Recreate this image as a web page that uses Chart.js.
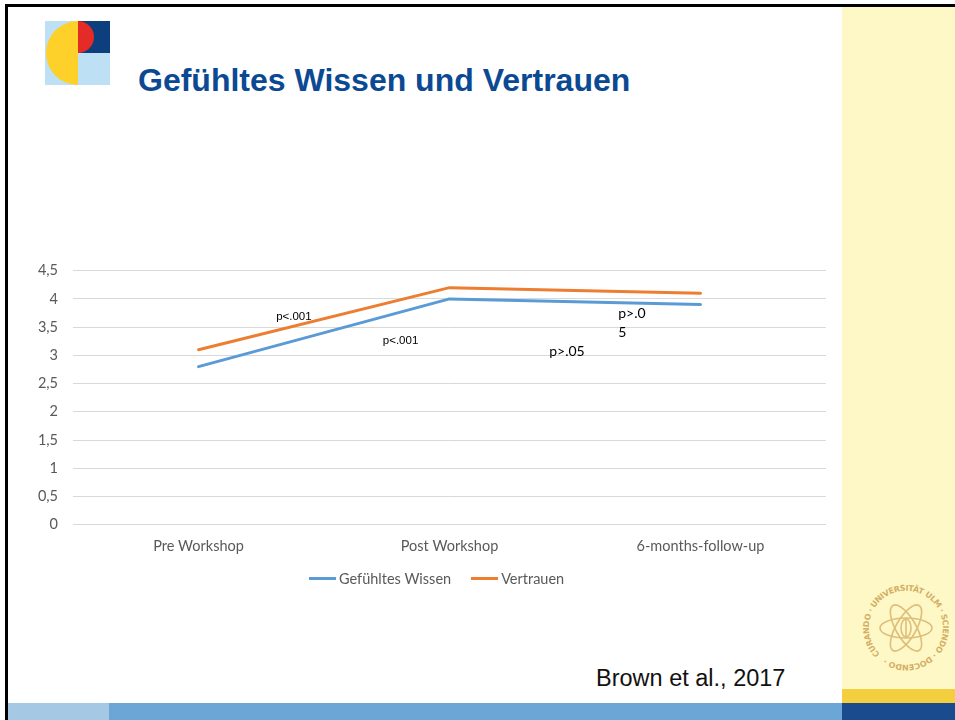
<!DOCTYPE html>
<html><head><meta charset="utf-8">
<script src="https://cdn.jsdelivr.net/npm/chart.js@4/dist/chart.umd.min.js"></script>
<style>
html,body{margin:0;padding:0;background:#fff;}
#slide{position:relative;width:955px;height:720px;overflow:hidden;background:#fff;}
.abs{position:absolute;}
#title{left:138px;top:62px;font:bold 32px "Liberation Sans",Arial,sans-serif;color:#0b4a93;white-space:nowrap;}
#cite{left:596px;top:665px;font:23.5px "Liberation Sans",Arial,sans-serif;color:#111;white-space:nowrap;}
#chartBox{left:20px;top:255px;width:816px;height:340px;}
#legend{left:309px;top:569px;height:18px;display:flex;align-items:center;font:14.5px Lato,sans-serif;color:#595959;white-space:nowrap;}
#legend .item{display:flex;align-items:center;margin-right:20px;}
#legend .sw{display:inline-block;width:27px;height:3px;margin-right:3px;}
</style></head><body>
<div id="slide">
  <div class="abs" style="left:842px;top:6px;width:113px;height:683px;background:#fef8c6;"></div>
  <div class="abs" style="left:842px;top:689px;width:113px;height:14px;background:#f3cf3f;"></div>
  <div class="abs" style="left:8px;top:703px;width:101px;height:17px;background:#a5c8e4;"></div>
  <div class="abs" style="left:109px;top:703px;width:733px;height:17px;background:#6ba6d6;"></div>
  <div class="abs" style="left:842px;top:703px;width:113px;height:17px;background:#1b4b8f;"></div>
  <div class="abs" style="left:5px;top:4px;width:950px;height:3px;background:#000;"></div>
  <div class="abs" style="left:5px;top:4px;width:3px;height:716px;background:#000;"></div>

  <svg class="abs" style="left:45px;top:21px;" width="65" height="64" viewBox="0 0 65 64">
    <rect x="0" y="0" width="65" height="64" fill="#bde0f4"/>
    <rect x="33" y="0" width="32" height="32" fill="#0d3f7e"/>
    <path d="M33 0 A16 16 0 0 1 33 32 Z" fill="#e42b25"/>
    <path d="M33 0 A32 32 0 0 0 33 64 Z" fill="#fdd12a"/>
  </svg>

  <svg class="abs" style="left:860px;top:582px;" width="92" height="92" viewBox="0 0 92 92">
    <defs>
      <path id="ring" d="M20 72 A37 37 0 1 1 72 72 A37 37 0 0 1 20 72"/>
    </defs>
    <g fill="none" stroke="#d9b56e" stroke-width="1.6" opacity="0.85">
      <ellipse cx="46" cy="46" rx="26" ry="10"/>
      <ellipse cx="46" cy="46" rx="26" ry="10" transform="rotate(60 46 46)"/>
      <ellipse cx="46" cy="46" rx="26" ry="10" transform="rotate(120 46 46)"/>
      <ellipse cx="46" cy="46" rx="5" ry="9"/>
      <line x1="46" y1="36" x2="46" y2="56"/>
    </g>
    <text font-family="DejaVu Sans" font-size="8" font-weight="bold" fill="#d4ae64">
      <textPath href="#ring" textLength="225" lengthAdjust="spacing">CURANDO · UNIVERSITÄT ULM · SCIENDO · DOCENDO ·</textPath>
    </text>
  </svg>

  <div id="title" class="abs">Gefühltes Wissen und Vertrauen</div>
  <div id="cite" class="abs">Brown et al., 2017</div>
  <div id="chartBox" class="abs"><canvas id="c" width="816" height="340"></canvas></div>
  <div id="legend" class="abs"></div>
</div>
<script>
// ---- data ----
const categories = ['Pre Workshop', 'Post Workshop', '6-months-follow-up'];
const seriesNames = ['Gefühltes Wissen', 'Vertrauen'];
const wissenValues = [2.8, 4.0, 3.9];
const vertrauenValues = [3.1, 4.2, 4.1];
const yTickLabels = ['0', '0,5', '1', '1,5', '2', '2,5', '3', '3,5', '4', '4,5'];
// significance notes, placed in data units (category index, value)
const pNotes = [
  { lines: ['p<.001'], x: 0.38, y: 3.685, kind: 'small' },
  { lines: ['p<.001'], x: 0.805, y: 3.26, kind: 'small' },
  { lines: ['p>.05'], x: 1.468, y: 3.065, kind: 'large' },
  { lines: ['p>.0', '5'], x: 1.672, y: 3.74, kind: 'wrap' }
];

// target plot frame on the page
const PLOT_TOP = 271, PLOT_HEIGHT = 254;

const pNotePlugin = {
  id: 'pNotes',
  afterDatasetsDraw(chart) {
    const { ctx, scales: { x, y } } = chart;
    ctx.save();
    ctx.fillStyle = '#000';
    ctx.textBaseline = 'middle';
    pNotes.forEach(n => {
      const px = x.getPixelForValue(n.x);
      const py = y.getPixelForValue(n.y);
      if (n.kind === 'small') {
        ctx.font = '11.5px "Liberation Sans", Arial, sans-serif';
        ctx.textAlign = 'center';
      } else if (n.kind === 'large') {
        ctx.font = '14px Lato, sans-serif';
        ctx.textAlign = 'center';
      } else {
        ctx.font = '14px Lato, sans-serif';
        ctx.textAlign = 'left';
      }
      n.lines.forEach((t, i) => ctx.fillText(t, px, py + i * 19));
    });
    ctx.restore();
  }
};

const chart = new Chart(document.getElementById('c'), {
  type: 'line',
  data: {
    labels: categories,
    datasets: [
      { label: seriesNames[0], data: wissenValues, borderColor: '#5b9bd5', backgroundColor: '#5b9bd5' },
      { label: seriesNames[1], data: vertrauenValues, borderColor: '#ed7d31', backgroundColor: '#ed7d31' }
    ]
  },
  options: {
    responsive: false,
    animation: false,
    devicePixelRatio: 1,
    layout: { padding: { top: 11, right: 10, bottom: 34, left: 0 } },
    elements: {
      line: { borderWidth: 3, tension: 0, borderCapStyle: 'round', borderJoinStyle: 'round' },
      point: { radius: 0, hoverRadius: 0 }
    },
    scales: {
      x: {
        offset: true,
        grid: { display: false, drawTicks: false },
        border: { display: false },
        ticks: { color: '#595959', font: { family: 'Lato', size: 14.5 }, padding: 13, maxRotation: 0, autoSkip: false },
        afterFit: s => { s.height = 36; }
      },
      y: {
        min: 0, max: 4.5,
        grid: { color: '#d9d9d9', lineWidth: 1, drawTicks: false },
        border: { display: false },
        ticks: {
          stepSize: 0.5, color: '#595959', font: { family: 'Lato', size: 14.5 }, padding: 15,
          callback: (v, i) => yTickLabels[i]
        },
        afterFit: s => { s.width = 53; }
      }
    },
    plugins: {
      legend: { display: false },
      tooltip: { enabled: false }
    }
  },
  plugins: [pNotePlugin]
});

// fit the plot frame to the page position
(function fitFrame() {
  const ca = chart.chartArea;
  const extra = (ca.bottom - ca.top) - PLOT_HEIGHT;
  if (Math.abs(extra) > 0.5) {
    chart.options.layout.padding.bottom += extra;
    chart.update('none');
  }
  const ca2 = chart.chartArea;
  const box = document.getElementById('chartBox');
  box.style.top = (PLOT_TOP - ca2.top) + 'px';
})();

// HTML legend built from the chart's datasets
const legendEl = document.getElementById('legend');
chart.data.datasets.forEach(ds => {
  const item = document.createElement('span');
  item.className = 'item';
  const sw = document.createElement('span');
  sw.className = 'sw';
  sw.style.background = ds.borderColor;
  const tx = document.createElement('span');
  tx.textContent = ds.label;
  item.appendChild(sw);
  item.appendChild(tx);
  legendEl.appendChild(item);
});
</script>
</body></html>
